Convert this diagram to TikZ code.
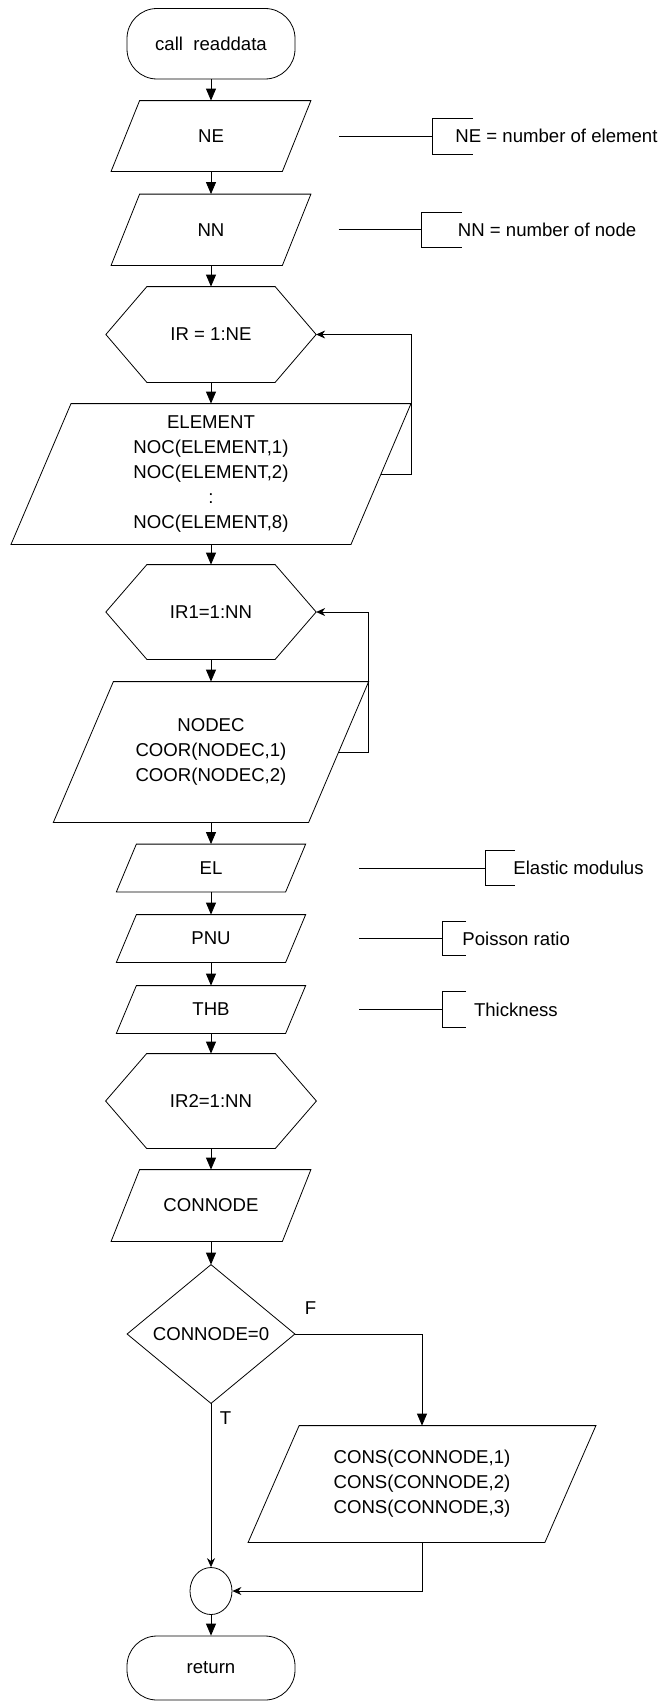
\documentclass[tikz,border=0pt]{standalone}
\usepackage{fontspec}
\setmainfont{Liberation Sans}
\usetikzlibrary{arrows.meta,shapes.geometric,calc}
% parallelogram: name, cx, cy, mid width, height, total slant, text
\newcommand{\pgram}[7]{%
  \node[txt, minimum width=#4, minimum height=#5] (#1) at (#2,-#3) {#7};
  \draw ([xshift=-#6/2]#1.south west) -- ([xshift=#6/2]#1.north west)
    -- ([xshift=#6/2]#1.north east) -- ([xshift=-#6/2]#1.south east) -- cycle;
}
% hexagon: name, cx, cy, width, height, inset, text
\newcommand{\hexa}[7]{%
  \node[txt, minimum width=#4, minimum height=#5] (#1) at (#2,-#3) {#7};
  \draw (#1.west) -- ([xshift=#6]#1.north west) -- ([xshift=-#6]#1.north east)
    -- (#1.east) -- ([xshift=-#6]#1.south east) -- ([xshift=#6]#1.south west) -- cycle;
}
% annotation: name, box, gap, bracket x, y, half height, tick, text x, text
\newcommand{\annot}[9]{%
  \coordinate (#1) at (#4,-#5);
  \draw ([xshift=#3]#2.east) -- (#1);
  \draw ([shift={(#7,#6)}]#1) -- ++(-#7,0) -- ++(0,-2*#6) -- ++(#7,0);
  \node[anchor=west, inner sep=0pt] (#1t) at (#8,-#5) {#9};
}
\begin{document}
\begin{tikzpicture}[x=1pt,y=1pt,
  font=\fontsize{18.6}{25}\selectfont,
  line width=0.8pt,
  txt/.style={inner sep=0pt, align=center},
  flow/.style={-{Triangle[length=12pt,width=10pt]}},
  back/.style={-{Stealth[length=9pt,width=8pt]}},
  term/.style={draw, rounded corners=30pt, inner sep=0pt, align=center}]
\useasboundingbox (0,0) rectangle (664,-1702);

\node[term, minimum width=168, minimum height=70.5] (start) at (211,-43.75) {call\ \ readdata};
\pgram{ne}{211}{136}{170.5}{70}{28.5}{NE}
\pgram{nn}{211}{229.75}{170.5}{70.5}{28.5}{NN}
\hexa{ir}{211}{334.5}{209.5}{95}{41}{IR = 1:NE}
\pgram{elem}{211}{474}{339.2}{140}{60}{ELEMENT\\NOC(ELEMENT,1)\\NOC(ELEMENT,2)\\:\\NOC(ELEMENT,8)}
\hexa{irone}{211}{612}{209.5}{94}{41}{IR1=1:NN}
\pgram{nodec}{211}{752}{254.5}{140}{60}{NODEC\\COOR(NODEC,1)\\COOR(NODEC,2)}
\pgram{el}{211}{868}{168.5}{47}{20}{EL}
\pgram{pnu}{211}{938.5}{168.5}{47}{20}{PNU}
\pgram{thb}{211}{1009.5}{168.5}{47}{20}{THB}
\hexa{irtwo}{211}{1101}{210}{94}{41}{IR2=1:NN}
\pgram{cn}{211}{1205.5}{170.5}{71}{28.5}{CONNODE}
\node[txt, minimum width=167, minimum height=138] (dec) at (211,-1334) {CONNODE=0};
\draw (dec.north) -- (dec.east) -- (dec.south) -- (dec.west) -- cycle;
\pgram{cons}{422}{1484}{296}{116}{51}{CONS(CONNODE,1)\\CONS(CONNODE,2)\\CONS(CONNODE,3)}
\node[draw, ellipse, minimum width=42, minimum height=47, inner sep=0pt] (join) at (211,-1591) {};
\node[term, minimum width=168, minimum height=64] (ret) at (211,-1668) {return};

\annot{nea}{ne}{42.5}{432}{136}{18}{41}{455}{NE = number of element}
\annot{nna}{nn}{42}{421}{229.75}{17.75}{41}{457.5}{NN = number of node}
\annot{ela}{el}{63.75}{485}{868}{17.7}{30}{513}{Elastic modulus}
\annot{pnua}{pnu}{63.75}{442.5}{938.5}{17}{23.5}{462}{Poisson ratio}
\annot{thba}{thb}{63.75}{442.5}{1009.5}{18.2}{23.5}{473.6}{Thickness}

\draw[flow] (start.south) -- (ne.north);
\draw[flow] (ne.south) -- (nn.north);
\draw[flow] (nn.south) -- (ir.north);
\draw[flow] (ir.south) -- (elem.north);
\draw[flow] (elem.south) -- (irone.north);
\draw[flow] (irone.south) -- (nodec.north);
\draw[flow] (nodec.south) -- (el.north);
\draw[flow] (el.south) -- (pnu.north);
\draw[flow] (pnu.south) -- (thb.north);
\draw[flow] (thb.south) -- (irtwo.north);
\draw[flow] (irtwo.south) -- (cn.north);
\draw[flow] (cn.south) -- (dec.north);
\draw[back] (elem.east) -- ++(30,0) |- (ir.east);
\draw[back] (nodec.east) -- ++(30,0) |- (irone.east);
\draw[flow] (dec.east) -| (cons.north);
\draw[back] (dec.south) -- (join.north);
\draw[back] (cons.south) |- (join.east);
\draw[flow] (join.south) -- (ret.north);
\node[inner sep=0pt] (flab) at (310.6,-1308) {F};
\node[inner sep=0pt] (tlab) at (225.5,-1418) {T};
\end{tikzpicture}
\end{document}
